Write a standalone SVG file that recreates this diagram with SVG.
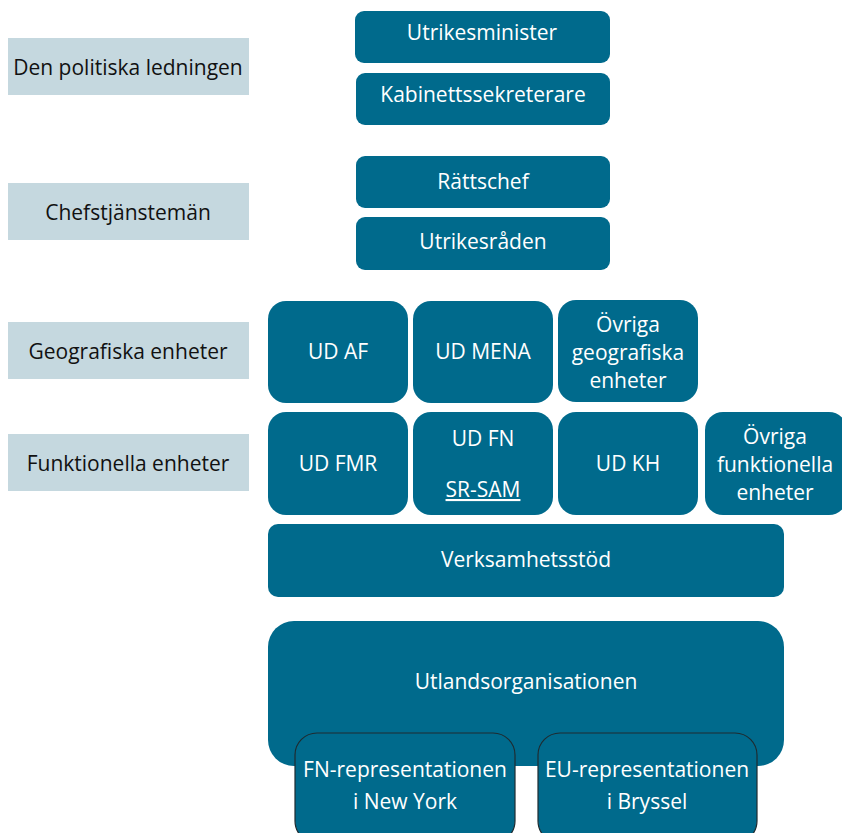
<svg xmlns="http://www.w3.org/2000/svg" width="842" height="833" viewBox="0 0 842 833">
<style>
.lbl{fill:#c5d8df}
.box{fill:#006a8c}
.rep{fill:#006a8c;stroke:#1e2b30;stroke-width:1.2}
text{font-family:"Open Sans","Liberation Sans",sans-serif;font-size:21px;text-anchor:middle}
.w{fill:#ffffff}
.k{fill:#111111}
</style>
<rect width="842" height="833" fill="#ffffff"/>
<g id="lbl-politiska"><rect class="lbl" x="8" y="38" width="241" height="57"/><text class="k" x="128" y="75">Den politiska ledningen</text></g>
<g id="lbl-chef"><rect class="lbl" x="8" y="183" width="241" height="57"/><text class="k" x="128" y="220">Chefstjänstemän</text></g>
<g id="lbl-geo"><rect class="lbl" x="8" y="322" width="241" height="57"/><text class="k" x="128" y="359">Geografiska enheter</text></g>
<g id="lbl-funk"><rect class="lbl" x="8" y="434" width="241" height="57"/><text class="k" x="128" y="471">Funktionella enheter</text></g>

<g id="utrikesminister"><rect class="box" x="355" y="11" width="255" height="52" rx="9"/><text class="w" x="482" y="40">Utrikesminister</text></g>
<g id="kabinett"><rect class="box" x="356" y="73" width="254" height="52" rx="9"/><text class="w" x="483" y="102">Kabinettssekreterare</text></g>
<g id="rattschef"><rect class="box" x="356" y="156" width="254" height="52" rx="9"/><text class="w" x="483" y="189">Rättschef</text></g>
<g id="utrikesraden"><rect class="box" x="356" y="217" width="254" height="53" rx="9"/><text class="w" x="483" y="249">Utrikesråden</text></g>

<g id="ud-af"><rect class="box" x="268" y="301" width="140" height="102" rx="18"/><text class="w" x="338" y="359">UD AF</text></g>
<g id="ud-mena"><rect class="box" x="413" y="301" width="140" height="102" rx="18"/><text class="w" x="483" y="359">UD MENA</text></g>
<g id="ovriga-geo"><rect class="box" x="558" y="300" width="140" height="102" rx="18"/><text class="w" x="628" y="332">Övriga</text><text class="w" x="628" y="360">geografiska</text><text class="w" x="628" y="388">enheter</text></g>

<g id="ud-fmr"><rect class="box" x="268" y="412" width="140" height="103" rx="18"/><text class="w" x="338" y="471">UD FMR</text></g>
<g id="ud-fn"><rect class="box" x="413" y="412" width="140" height="103" rx="18"/><text class="w" x="483" y="446">UD FN</text><text class="w" x="483" y="497" text-decoration="underline">SR-SAM</text></g>
<g id="ud-kh"><rect class="box" x="558" y="412" width="140" height="103" rx="18"/><text class="w" x="628" y="471">UD KH</text></g>
<g id="ovriga-funk"><rect class="box" x="705" y="412" width="142" height="103" rx="18"/><text class="w" x="775" y="444">Övriga</text><text class="w" x="775" y="472">funktionella</text><text class="w" x="775" y="500">enheter</text></g>

<g id="verksamhetsstod"><rect class="box" x="268" y="524" width="516" height="73" rx="10"/><text class="w" x="526" y="567">Verksamhetsstöd</text></g>

<g id="utland"><rect class="box" x="268" y="621" width="516" height="145" rx="26"/><text class="w" x="526" y="689">Utlandsorganisationen</text></g>
<g id="fn-rep"><rect class="rep" x="295" y="733" width="220" height="110" rx="22"/><text class="w" x="405" y="777">FN-representationen</text><text class="w" x="405" y="809">i New York</text></g>
<g id="eu-rep"><rect class="rep" x="538" y="733" width="219" height="110" rx="22"/><text class="w" x="647" y="777">EU-representationen</text><text class="w" x="647" y="809">i Bryssel</text></g>
<g id="connectors"></g>
</svg>
